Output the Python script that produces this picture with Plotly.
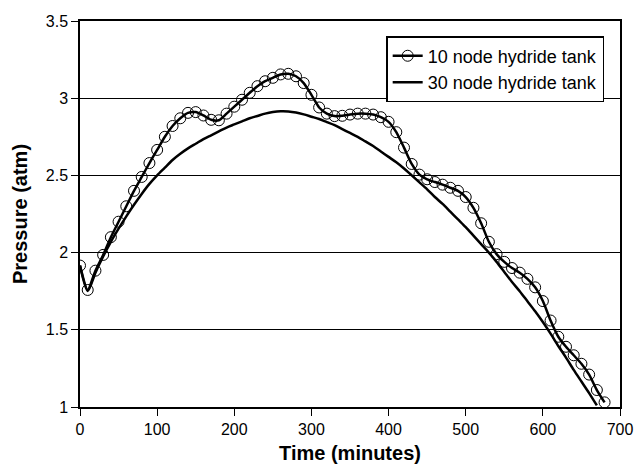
import plotly.graph_objects as go

# Time (minutes)
time_10 = list(range(0, 690, 10))
pressure_10 = [1.916, 1.758, 1.883, 1.985, 2.10, 2.20, 2.30, 2.40, 2.49, 2.58,
               2.665, 2.75, 2.82, 2.87, 2.905, 2.91, 2.888, 2.86, 2.857, 2.90,
               2.945, 2.99, 3.035, 3.078, 3.11, 3.132, 3.154, 3.158, 3.142, 3.098,
               3.022, 2.94, 2.90, 2.884, 2.886, 2.894, 2.90, 2.90, 2.894, 2.877,
               2.847, 2.78, 2.68, 2.574, 2.505, 2.475, 2.457, 2.44, 2.42, 2.40,
               2.36, 2.29, 2.19, 2.07, 1.99, 1.94, 1.90, 1.87, 1.83, 1.775,
               1.686, 1.56, 1.455, 1.39, 1.335, 1.28, 1.21, 1.11, 1.03]

time_30 = list(range(0, 680, 10))
pressure_30 = [1.916, 1.752, 1.87, 1.975, 2.07, 2.155, 2.235, 2.31, 2.38, 2.445,
               2.50, 2.55, 2.60, 2.64, 2.675, 2.705, 2.735, 2.76, 2.785, 2.81,
               2.83, 2.85, 2.87, 2.885, 2.90, 2.91, 2.915, 2.914, 2.907, 2.895,
               2.88, 2.865, 2.845, 2.825, 2.80, 2.775, 2.75, 2.72, 2.69, 2.655,
               2.62, 2.585, 2.545, 2.50, 2.455, 2.41, 2.36, 2.315, 2.265, 2.215,
               2.165, 2.11, 2.055, 2.00, 1.94, 1.875, 1.81, 1.75, 1.685, 1.62,
               1.55, 1.475, 1.395, 1.32, 1.24, 1.165, 1.09, 1.01]

x_ticks = [0, 100, 200, 300, 400, 500, 600, 700]
y_ticks = [1, 1.5, 2, 2.5, 3, 3.5]
y_tick_text = ["1", "1.5", "2", "2.5", "3", "3.5"]

fig = go.Figure()
fig.add_trace(go.Scatter(
    x=time_10, y=pressure_10, mode="lines+markers", name="10 node hydride tank",
    line=dict(color="black", width=2.5, shape="spline", smoothing=0.6),
    marker=dict(symbol="circle-open", size=11, color="black", line=dict(width=1)),
))
fig.add_trace(go.Scatter(
    x=time_30, y=pressure_30, mode="lines", name="30 node hydride tank",
    line=dict(color="black", width=2.5, shape="spline", smoothing=0.8),
))

fig.update_layout(
    width=636, height=469,
    margin=dict(l=80, r=16, t=21, b=62),
    paper_bgcolor="white", plot_bgcolor="white",
    font=dict(family="Liberation Sans, Arial, sans-serif", size=16, color="black"),
    showlegend=True,
    legend=dict(x=0.567, y=0.961, xanchor="left", yanchor="top",
                bgcolor="white", bordercolor="black", borderwidth=1.5,
                font=dict(size=18), tracegroupgap=0, itemwidth=30),
)
fig.update_xaxes(
    range=[0, 700], tickvals=x_ticks, ticks="outside", ticklen=7, tickwidth=1,
    tickcolor="black", showline=True, linecolor="black", linewidth=1.5,
    mirror=True, showgrid=False, zeroline=False, automargin=False,
    tickfont=dict(size=16),
    title=dict(text="<b>Time (minutes)</b>", font=dict(size=20), standoff=9),
)
fig.update_yaxes(
    range=[1, 3.5], tickvals=y_ticks, ticktext=y_tick_text, ticks="outside",
    ticklen=7, tickwidth=1, tickcolor="black", showline=True, linecolor="black",
    linewidth=1.5, mirror=True, showgrid=True, gridcolor="black", gridwidth=1,
    zeroline=False, automargin=False, tickfont=dict(size=16),
    title=dict(text="<b>Pressure (atm)</b>", font=dict(size=20), standoff=13),
)

fig.write_html("out.html")
